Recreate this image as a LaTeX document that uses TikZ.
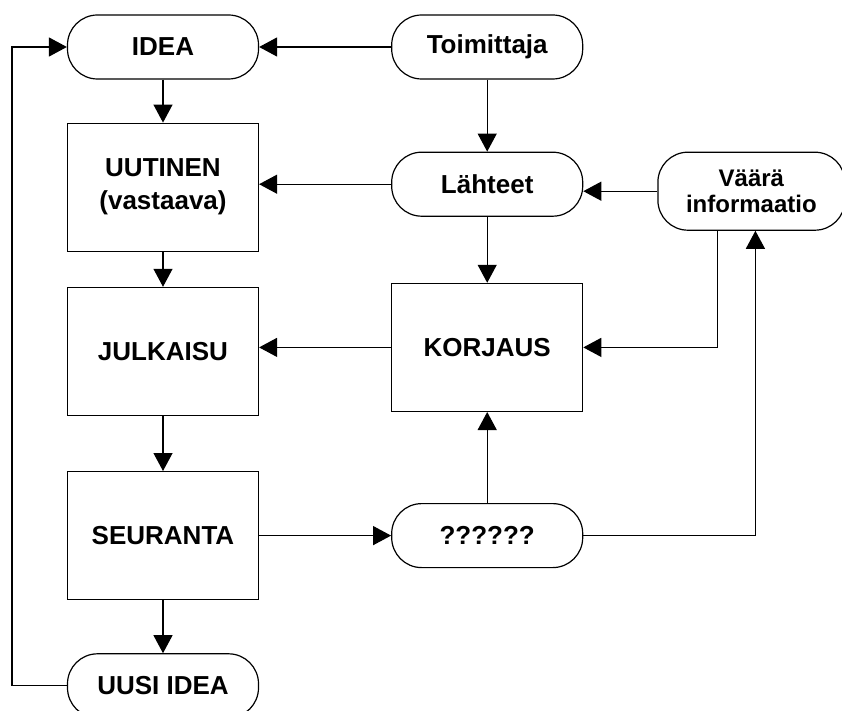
\documentclass[tikz,border=0pt]{standalone}
\usepackage{fontspec}
\setmainfont{Liberation Sans}
\usetikzlibrary{arrows.meta, positioning}

\begin{document}
\begin{tikzpicture}[
        x=1pt, y=1pt,
        stadium/.style={rectangle, rounded corners=30pt, draw, line width=1.2pt, minimum width=191pt, minimum height=64pt, inner sep=0pt, font=\fontsize{26}{31}\selectfont\bfseries, align=center},
        box/.style={rectangle, draw, line width=1.2pt, minimum width=191pt, minimum height=128pt, inner sep=0pt, font=\fontsize{26}{33}\selectfont\bfseries, align=center},
        flow/.style={-{Triangle[length=18pt,width=19pt]}, line width=1.2pt},
        node distance=40pt and 132pt
    ]
    \useasboundingbox (0,0) rectangle (842,-711);

    % Left column
    \node[stadium] (idea) at (163,-47) {IDEA};
    \node[box, below=43pt of idea] (uutinen) {UUTINEN\\(vastaava)};
    \node[box, below=35pt of uutinen] (julkaisu) {JULKAISU};
    \node[box, below=55pt of julkaisu] (seuranta) {SEURANTA};
    \node[stadium, below=53pt of seuranta] (uusi) {UUSI IDEA};

    % Middle column
    \node[stadium, right=of idea] (toimittaja) {Toimittaja};
    \node[stadium, below=72pt of toimittaja] (lahteet) {Lähteet};
    \node[box, below=66pt of lahteet] (korjaus) {KORJAUS};
    \node[stadium, below=91pt of korjaus] (kysymys) {??????};

    % Right
    \node[stadium, minimum width=187pt, minimum height=78pt, font=\fontsize{24}{26}\selectfont\bfseries, anchor=north west] (vaara) at ([xshift=74pt]lahteet.north east) {Väärä\\informaatio};

    % Main chain
    \draw[flow] (idea) -- (uutinen);
    \draw[flow] (uutinen) -- (julkaisu);
    \draw[flow] (julkaisu) -- (seuranta);
    \draw[flow] (seuranta) -- (uusi);
    \draw[flow] (uusi.west) -- ++(-55,0) |- (idea.west);

    % Sources and corrections
    \draw[flow] (toimittaja) -- (idea);
    \draw[flow] (toimittaja) -- (lahteet);
    \draw[flow] (lahteet.west) -- (lahteet.west -| uutinen.east);
    \draw[flow] (lahteet) -- (korjaus);
    \draw[flow] (vaara.west) -- (vaara.west -| lahteet.east);
    \draw[flow] ([xshift=-34pt]vaara.south) |- (korjaus.east);
    \draw[flow] (korjaus.west) -- (korjaus.west -| julkaisu.east);
    \draw[flow] (seuranta.east) -- (seuranta.east -| kysymys.west);
    \draw[flow] (kysymys) -- (korjaus);
    \draw[flow] (kysymys.east) -| ([xshift=4pt]vaara.south);

\end{tikzpicture}
\end{document}
